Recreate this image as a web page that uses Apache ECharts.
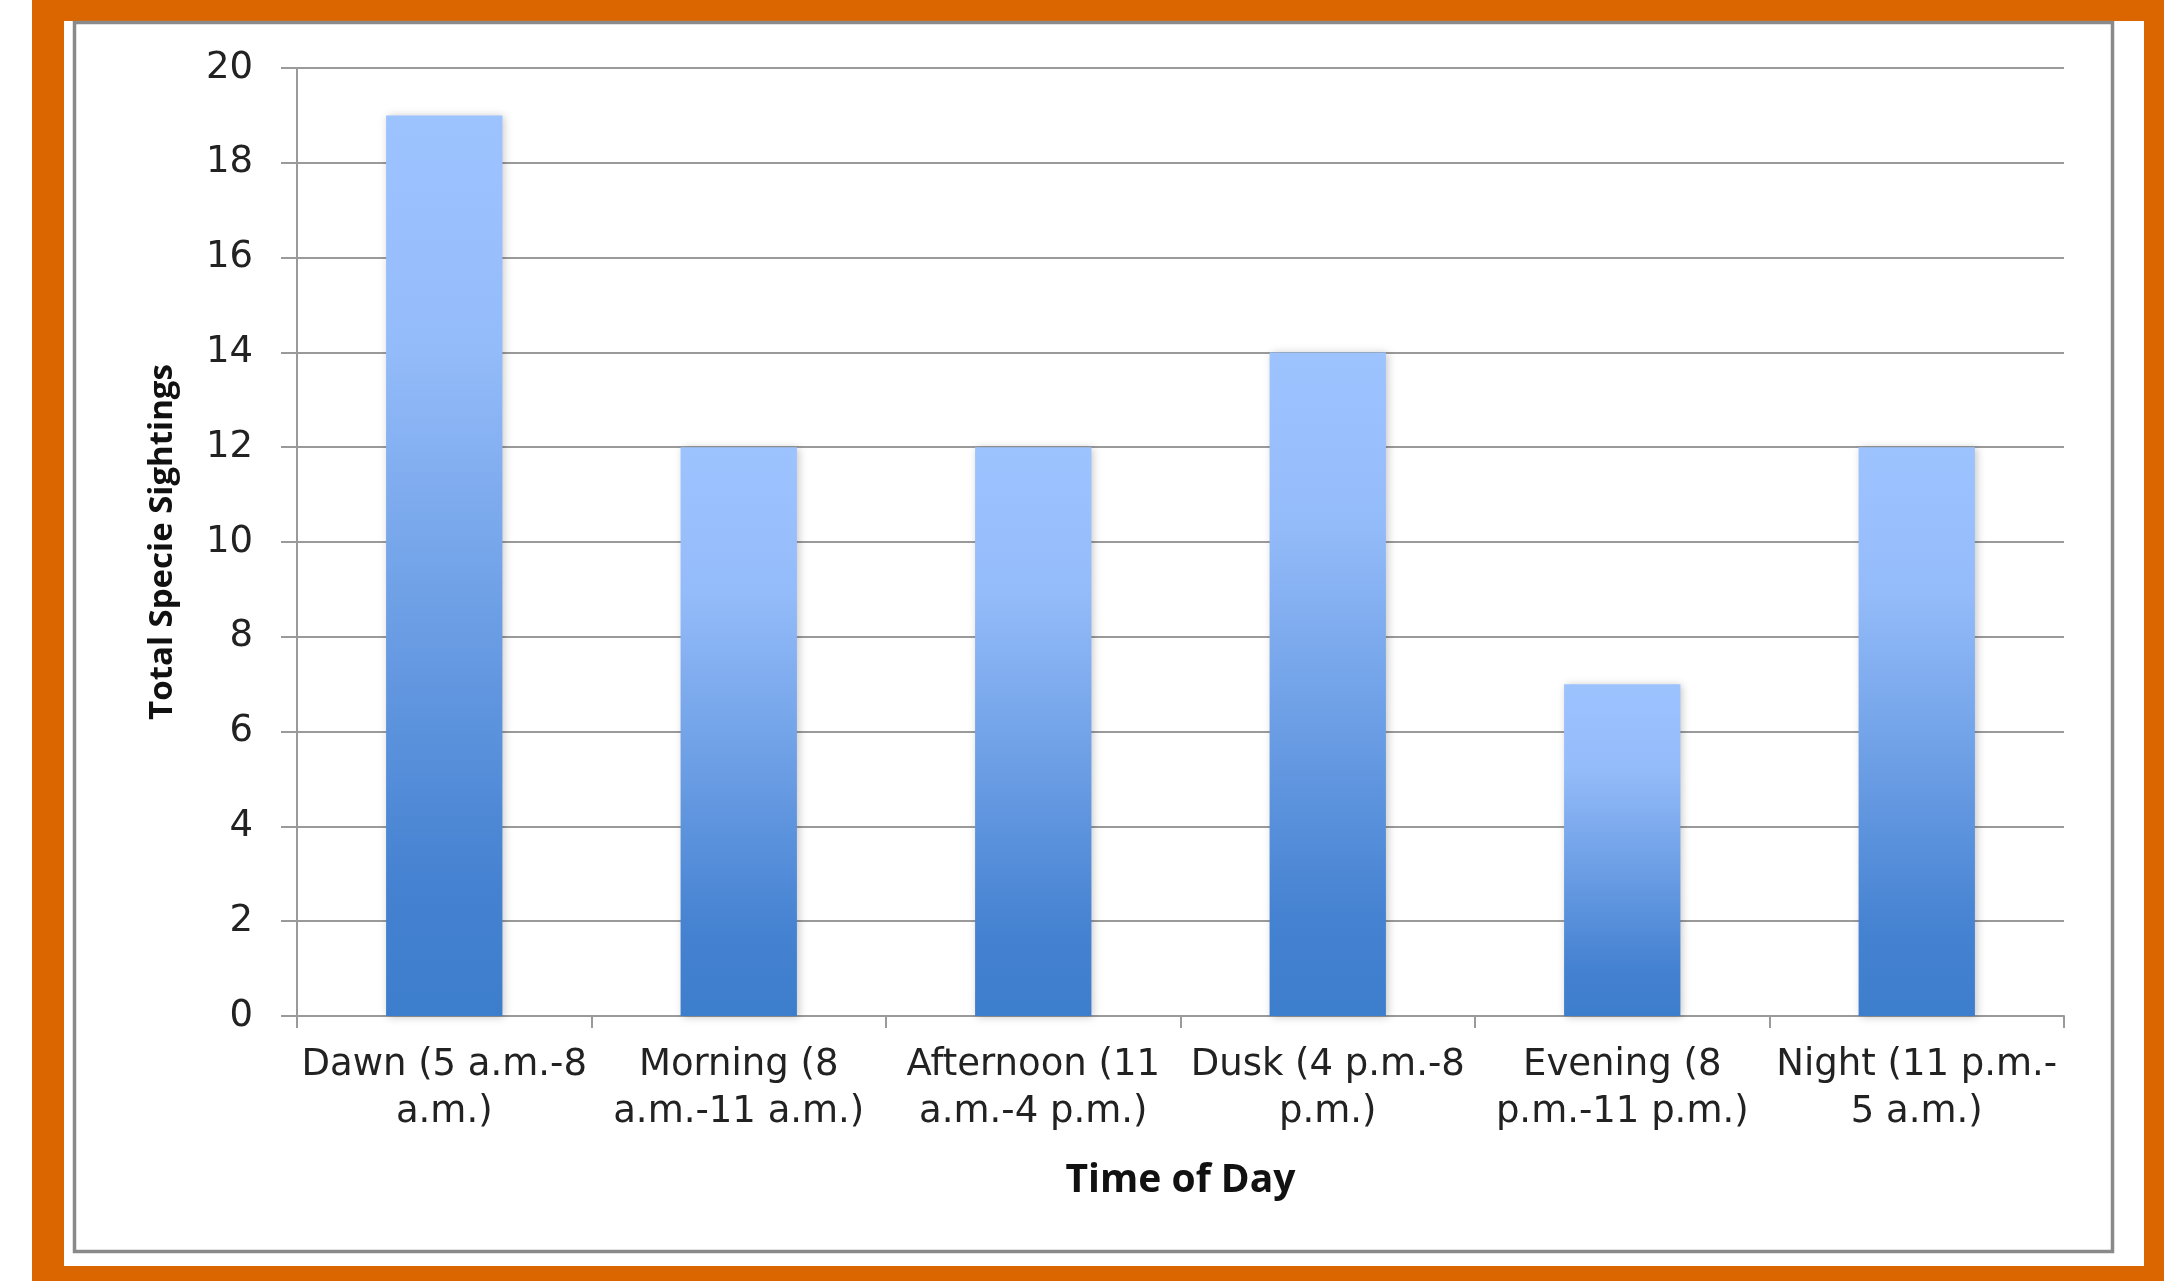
<!DOCTYPE html>
<html>
<head>
<meta charset="utf-8">
<script src="https://cdn.jsdelivr.net/npm/echarts@6/dist/echarts.min.js"></script>
<style>
	html, body { margin: 0; padding: 0; background: #fff; }
	#chart { width: 2164px; height: 1281px; }
</style>
</head>
<body>
<div id="chart"></div>
<script>
// data
const categories = [
	'Dawn (5 a.m.-8\na.m.)',
	'Morning (8\na.m.-11 a.m.)',
	'Afternoon (11\na.m.-4 p.m.)',
	'Dusk (4 p.m.-8\np.m.)',
	'Evening (8\np.m.-11 p.m.)',
	'Night (11 p.m.-\n5 a.m.)'
]
const sightings = [19, 12, 12, 14, 7, 12]
const yTicks = { min: 0, max: 20, interval: 2 }

const labelFont = '"DejaVu Sans", "Open Sans", sans-serif'
const titleFont = '"Open Sans", Lato, sans-serif'
const orange = '#DB6600'
const gridGray = '#9a9a9a'

let chart = echarts.init(document.getElementById('chart'))

chart.setOption({
	animation: false,
	backgroundColor: '#fff',
	graphic: [
		// orange outer frame
		{ type: 'rect', shape: { x: 32, y: 0, width: 2132, height: 21 }, style: { fill: orange }, z: 0 },
		{ type: 'rect', shape: { x: 32, y: 0, width: 32, height: 1281 }, style: { fill: orange }, z: 0 },
		{ type: 'rect', shape: { x: 2144, y: 0, width: 20, height: 1281 }, style: { fill: orange }, z: 0 },
		{ type: 'rect', shape: { x: 32, y: 1266, width: 2132, height: 15 }, style: { fill: orange }, z: 0 },
		// gray chart border
		{ type: 'rect', shape: { x: 74.5, y: 22.5, width: 2038, height: 1229 }, style: { fill: 'none', stroke: '#8a8a8a', lineWidth: 3.5 }, z: 0 }
	],
	grid: {
		left: 297,
		right: 100,
		top: 68,
		bottom: 265
	},
	xAxis: {
		type: 'category',
		data: categories,
		name: 'Time of Day',
		nameLocation: 'middle',
		nameGap: 145,
		nameTextStyle: { fontFamily: titleFont, fontSize: 39, fontWeight: 'bold', color: '#111' },
		axisLine: { show: true, lineStyle: { color: gridGray, width: 2 } },
		axisTick: { show: true, alignWithLabel: false, length: 12, lineStyle: { color: gridGray, width: 2 } },
		axisLabel: {
			interval: 0,
			margin: 26,
			fontFamily: labelFont,
			fontSize: 37,
			lineHeight: 47,
			color: '#222'
		}
	},
	yAxis: {
		type: 'value',
		min: yTicks.min,
		max: yTicks.max,
		interval: yTicks.interval,
		name: 'Total Specie Sightings',
		nameLocation: 'middle',
		nameGap: 118,
		nameTextStyle: { fontFamily: titleFont, fontSize: 33, fontWeight: 'bold', color: '#111' },
		axisLine: { show: true, lineStyle: { color: gridGray, width: 2 } },
		axisTick: { show: true, length: 16, lineStyle: { color: gridGray, width: 2 } },
		axisLabel: { margin: 44, fontFamily: labelFont, fontSize: 37, color: '#222' },
		splitLine: { show: true, lineStyle: { color: gridGray, width: 2 } }
	},
	series: [{
		type: 'bar',
		data: sightings,
		barCategoryGap: '60.5%',
		itemStyle: {
			color: new echarts.graphic.LinearGradient(0, 0, 0, 1, [
				{ offset: 0, color: '#9DC3FF' },
				{ offset: 0.25, color: '#95BCFA' },
				{ offset: 0.85, color: '#4582D1' },
				{ offset: 1, color: '#3D7ECC' }
			]),
			shadowBlur: 8,
			shadowColor: 'rgba(0,0,0,0.22)',
			shadowOffsetX: 2,
			shadowOffsetY: 1
		}
	}]
})
window.addEventListener('resize', chart.resize)
</script>
</body>
</html>
